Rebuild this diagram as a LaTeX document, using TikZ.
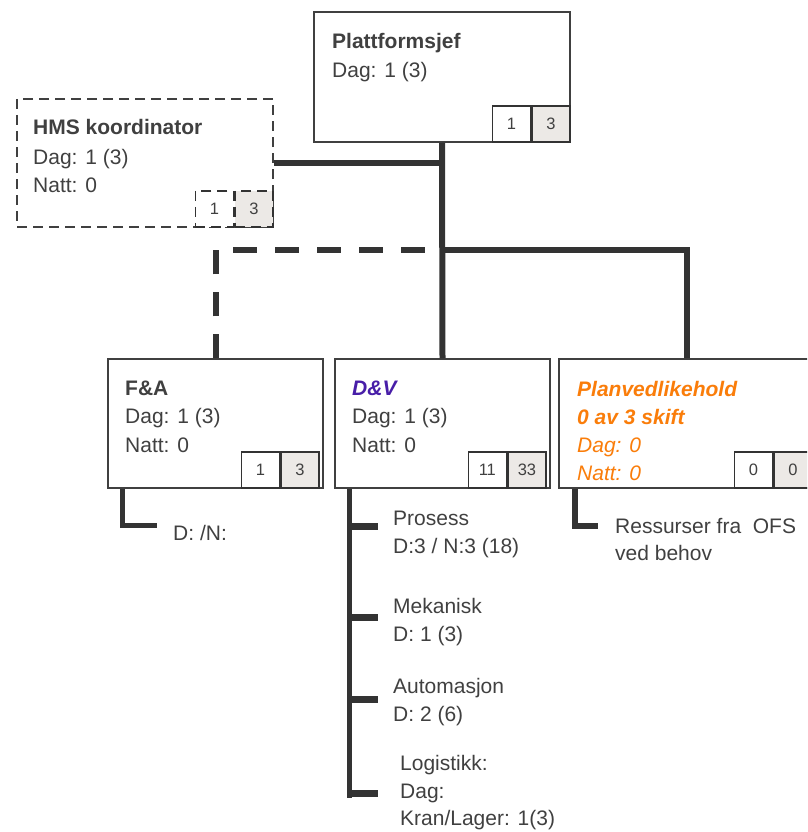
\documentclass[tikz,border=0pt]{standalone}
\usepackage{fontspec}
\setmainfont{Liberation Sans}
\usetikzlibrary{calc,positioning}
\definecolor{lngray}{RGB}{51,51,51}
\definecolor{txgray}{RGB}{64,64,64}
\definecolor{cellgray}{RGB}{236,233,230}
\definecolor{dvpurple}{RGB}{72,30,168}
\definecolor{pvorange}{RGB}{250,125,10}

\begin{document}
\begin{tikzpicture}[x=1pt,y=-1pt,
    box/.style={draw=txgray,line width=1.5pt,fill=white,inner sep=0pt},
    cell/.style={draw=lngray,line width=1.6pt,fill=white,inner sep=0pt,
      minimum width=38pt,minimum height=36pt,font=\fontsize{16.5}{20}\selectfont,text=txgray},
    txt/.style={anchor=base west,inner sep=0pt,text=txgray,font=\fontsize{21}{25}\selectfont},
    conn/.style={draw=lngray,line width=6pt},
    tree/.style={draw=lngray,line width=5pt}]
    \useasboundingbox (0,0) rectangle (807,832);
    \clip (0,0) rectangle (807,832);
    % boxes
    \node[box,minimum width=256pt,minimum height=130pt] (pf) at (442,77) {};
    \node[box,dash pattern=on 10pt off 6pt,minimum width=256pt,minimum height=128pt] (hms) at (145,163) {};
    \node[box,minimum width=215pt,minimum height=129pt] (fa) at (215.5,423.5) {};
    \node[box,minimum width=215pt,minimum height=129pt] (dv) at (442.5,423.5) {};
    \node[box,minimum width=256pt,minimum height=129pt] (pv) at (687,423.5) {};
    % count cells
    \node[cell,fill=cellgray,anchor=south east] (pfn) at (pf.south east) {3};
    \node[cell,anchor=south east] (pfd) at (pfn.south west) {1};
    \node[cell,fill=cellgray,dash pattern=on 10pt off 6pt,anchor=south east] (hmsn) at (hms.south east) {3};
    \node[cell,dash pattern=on 10pt off 6pt,anchor=south east] (hmsd) at (hmsn.south west) {1};
    \node[cell,fill=cellgray,anchor=south east] (fan) at ($(fa.south east)+(-4,0)$) {3};
    \node[cell,anchor=south east] (fad) at (fan.south west) {1};
    \node[cell,fill=cellgray,anchor=south east] (dvn) at ($(dv.south east)+(-4,0)$) {33};
    \node[cell,anchor=south east] (dvd) at (dvn.south west) {11};
    \node[cell,fill=cellgray,anchor=south east] (pvn) at ($(pv.south east)+(-3,0)$) {0};
    \node[cell,anchor=south east] (pvd) at (pvn.south west) {0};
    % box texts
    \node[txt,font=\fontsize{21}{25}\selectfont\bfseries] (pft) at (332,49) {Plattformsjef};
    \node[txt] (pfdag) at (332,78) {Dag: 1 (3)};
    \node[txt,font=\fontsize{21}{25}\selectfont\bfseries] (hmst) at (33,135) {HMS koordinator};
    \node[txt] (hmsdag) at (33,164) {Dag: 1 (3)};
    \node[txt] (hmsnatt) at (33,192) {Natt: 0};
    \node[txt,font=\fontsize{21}{25}\selectfont\bfseries] (fat) at (125,395) {F\&A};
    \node[txt] (fadag) at (125,423) {Dag: 1 (3)};
    \node[txt] (fanatt) at (125,452) {Natt: 0};
    \node[txt,text=dvpurple,font=\fontsize{21}{25}\selectfont\bfseries\itshape] (dvt) at (352,395) {D\&V};
    \node[txt] (dvdag) at (352,423) {Dag: 1 (3)};
    \node[txt] (dvnatt) at (352,452) {Natt: 0};
    \node[txt,text=pvorange,font=\fontsize{21}{25}\selectfont\bfseries\itshape] (pvt) at (577,396) {Planvedlikehold};
    \node[txt,text=pvorange,font=\fontsize{21}{25}\selectfont\bfseries\itshape] (pvskift) at (577,424) {0 av 3 skift};
    \node[txt,text=pvorange,font=\fontsize{21}{25}\selectfont\itshape] (pvdag) at (577,452) {Dag: 0};
    \node[txt,text=pvorange,font=\fontsize{21}{25}\selectfont\itshape] (pvnatt) at (577,480) {Natt: 0};
    % sub texts
    \node[txt] (fasub) at (173,540) {D: /N:};
    \node[txt] (pros) at (393,525) {Prosess};
    \node[txt] (prosn) at (393,553) {D:3 / N:3 (18)};
    \node[txt] (mek) at (393,613) {Mekanisk};
    \node[txt] (mekn) at (393,641) {D: 1 (3)};
    \node[txt] (aut) at (393,693) {Automasjon};
    \node[txt] (autn) at (393,721) {D: 2 (6)};
    \node[txt] (log) at (400,770) {Logistikk:};
    \node[txt] (logdag) at (400,798) {Dag:};
    \node[txt] (logkran) at (400,825) {Kran/Lager: 1(3)};
    \node[txt] (res) at (615,533) {Ressurser fra~ OFS};
    \node[txt] (resb) at (615,560) {ved behov};
    % connectors
    \coordinate (jn) at (pf.south |- 0,250);
    \coordinate (dend) at (425,250);
    \draw[conn] (hms.east) -- (hms.east -| pf.south);
    \draw[conn] (pf.south) -- (dv.north);
    \draw[conn] (jn) -| (pv.north);
    \draw[conn,dash pattern=on 24pt off 18pt] (fa.north) |- (dend);
    \draw[conn,line width=5pt] ($(fa.south west)+(15,0)$) |- ($(fasub.west)+(-16,-7)$);
    \draw[conn] ($(pv.south west)+(17,0)$) |- ($(res.west)+(-17,0)$);
    \draw[tree] ($(dv.south west)+(15,0)$) -- ($(dv.south west)+(15,309)$);
    \foreach \ty in {526,617,699,793}
      \draw[tree,line width=7pt] (dv.south west |- 0,\ty) ++(13,0) -- (378,\ty);
  \end{tikzpicture}
\end{document}
